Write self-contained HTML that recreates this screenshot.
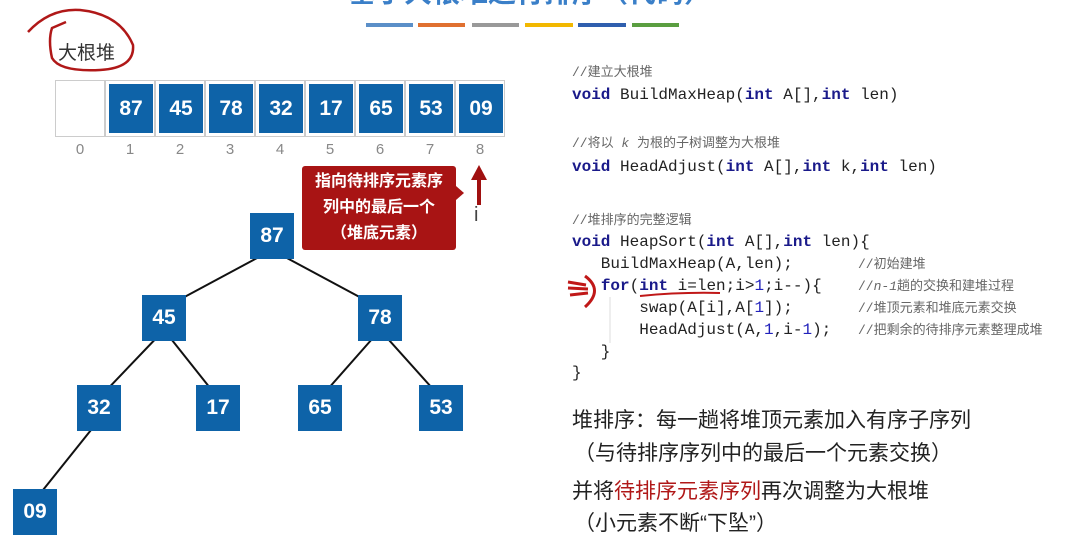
<!DOCTYPE html>
<html><head><meta charset="utf-8"><style>
body{margin:0;width:1085px;height:544px;background:#fff;position:relative;overflow:hidden;font-family:"Liberation Sans","Noto Sans CJK SC",sans-serif}
.a{position:absolute}
.n{position:absolute;width:44px;height:46px;background:#0e63a8;color:#fff;font-weight:bold;font-size:21px;line-height:46px;text-align:center}
.cell{position:absolute;top:80px;width:50px;height:57px;border:1px solid #ccc;box-sizing:border-box}
.cell .b{position:absolute;left:3px;top:3px;width:44px;height:49px;background:#0e63a8;color:#fff;font-weight:bold;font-size:21px;line-height:49px;text-align:center}
.idx{position:absolute;top:141px;width:50px;text-align:center;color:#888;font-size:15px}
.code{position:absolute;left:572px;font-family:"Liberation Mono","DejaVu Sans Mono","Noto Sans CJK SC",monospace;font-size:16px;color:#222;white-space:pre;line-height:20px}
.k{color:#1a1a8a;font-weight:bold}
.c{color:#666;font-size:13px;font-family:"Liberation Mono","Noto Sans CJK SC",monospace}
.num{color:#2222bb}
.t{position:absolute;left:572px;font-size:21px;color:#222;line-height:30px;white-space:nowrap}
</style></head><body>
<div class="a" style="left:300px;top:-29px;width:460px;text-align:center;font-size:28px;font-weight:bold;color:#3a7fc8">基于大根堆进行排序（代码）</div>
<div class="a" style="left:366px;top:23px;width:47px;height:4px;background:#5b8fc8"></div>
<div class="a" style="left:418px;top:23px;width:47px;height:4px;background:#e07030"></div>
<div class="a" style="left:472px;top:23px;width:47px;height:4px;background:#999"></div>
<div class="a" style="left:525px;top:23px;width:48px;height:4px;background:#f2b800"></div>
<div class="a" style="left:578px;top:23px;width:48px;height:4px;background:#2f5fae"></div>
<div class="a" style="left:632px;top:23px;width:47px;height:4px;background:#5a9e40"></div>

<div class="a" style="left:58px;top:38px;font-size:19px;color:#333">大根堆</div>
<svg class="a" style="left:0;top:0" width="1085" height="544">
<path d="M28 32 Q50 8 80 10 Q120 14 133 45 Q135 68 100 70 Q60 72 52 58 Q48 40 52 28 L66 22" fill="none" stroke="#b01818" stroke-width="2.5"/>
<g stroke="#111" stroke-width="2">
<line x1="272" y1="250" x2="164" y2="308"/><line x1="272" y1="250" x2="380" y2="308"/>
<line x1="164" y1="330" x2="99" y2="398"/><line x1="164" y1="330" x2="218" y2="398"/>
<line x1="380" y1="330" x2="320" y2="398"/><line x1="380" y1="330" x2="441" y2="398"/>
<line x1="99" y1="420" x2="35" y2="500"/>
</g>
<line x1="479" y1="205" x2="479" y2="178" stroke="#a01010" stroke-width="4"/>
<polygon points="471,180 487,180 479,165" fill="#a01010"/>
<path d="M568 282 L586 285 M568 288 L588 289 M570 295 L588 293 M585 276 Q604 290 585 307" fill="none" stroke="#c01818" stroke-width="3"/>
<path d="M640 296 Q680 292 720 293" fill="none" stroke="#c01818" stroke-width="2"/>
<line x1="610" y1="297" x2="610" y2="343" stroke="#ddd" stroke-width="1"/>
</svg>

<div class="cell" style="left:55px"></div>
<div class="cell" style="left:105px"><div class="b">87</div></div>
<div class="cell" style="left:155px"><div class="b">45</div></div>
<div class="cell" style="left:205px"><div class="b">78</div></div>
<div class="cell" style="left:255px"><div class="b">32</div></div>
<div class="cell" style="left:305px"><div class="b">17</div></div>
<div class="cell" style="left:355px"><div class="b">65</div></div>
<div class="cell" style="left:405px"><div class="b">53</div></div>
<div class="cell" style="left:455px"><div class="b">09</div></div>
<div class="idx" style="left:55px">0</div><div class="idx" style="left:105px">1</div><div class="idx" style="left:155px">2</div><div class="idx" style="left:205px">3</div><div class="idx" style="left:255px">4</div><div class="idx" style="left:305px">5</div><div class="idx" style="left:355px">6</div><div class="idx" style="left:405px">7</div><div class="idx" style="left:455px">8</div>

<div class="a" style="left:302px;top:166px;width:154px;height:84px;background:#a81414;border-radius:3px;color:#fff;font-weight:bold;font-size:16px;line-height:26px;text-align:center;padding-top:3px;box-sizing:border-box">指向待排序元素序<br>列中的最后一个<br>（堆底元素）</div>
<div class="a" style="left:456px;top:186px;width:0;height:0;border-top:7px solid transparent;border-bottom:7px solid transparent;border-left:8px solid #a81414"></div>
<div class="a" style="left:474px;top:204px;font-size:20px;color:#444">i</div>

<div class="n" style="left:250px;top:213px">87</div>
<div class="n" style="left:142px;top:295px">45</div>
<div class="n" style="left:358px;top:295px">78</div>
<div class="n" style="left:77px;top:385px">32</div>
<div class="n" style="left:196px;top:385px">17</div>
<div class="n" style="left:298px;top:385px">65</div>
<div class="n" style="left:419px;top:385px">53</div>
<div class="n" style="left:13px;top:489px">09</div>

<div class="code" style="top:62px"><span class="c">//建立大根堆</span></div>
<div class="code" style="top:85px"><span class="k">void</span> BuildMaxHeap(<span class="k">int</span> A[],<span class="k">int</span> len)</div>
<div class="code" style="top:133px"><span class="c">//将以 <i>k</i> 为根的子树调整为大根堆</span></div>
<div class="code" style="top:157px"><span class="k">void</span> HeadAdjust(<span class="k">int</span> A[],<span class="k">int</span> k,<span class="k">int</span> len)</div>
<div class="code" style="top:210px"><span class="c">//堆排序的完整逻辑</span></div>
<div class="code" style="top:232px"><span class="k">void</span> HeapSort(<span class="k">int</span> A[],<span class="k">int</span> len){</div>
<div class="code" style="top:254px">   BuildMaxHeap(A,len);</div>
<div class="code" style="top:276px">   <span class="k">for</span>(<span class="k">int</span> i=len;i&gt;<span class="num">1</span>;i--){</div>
<div class="code" style="top:298px">       swap(A[i],A[<span class="num">1</span>]);</div>
<div class="code" style="top:320px">       HeadAdjust(A,<span class="num">1</span>,i-<span class="num">1</span>);</div>
<div class="code" style="top:342px">   }</div>
<div class="code" style="top:363px">}</div>
<div class="code" style="left:858px;top:254px"><span class="c">//初始建堆</span></div>
<div class="code" style="left:858px;top:276px"><span class="c">//<i>n-1</i>趟的交换和建堆过程</span></div>
<div class="code" style="left:858px;top:298px"><span class="c">//堆顶元素和堆底元素交换</span></div>
<div class="code" style="left:858px;top:320px"><span class="c">//把剩余的待排序元素整理成堆</span></div>

<div class="t" style="top:406px">堆排序：每一趟将堆顶元素加入有序子序列</div>
<div class="t" style="top:439px;left:574px">（与待排序序列中的最后一个元素交换）</div>
<div class="t" style="top:477px">并将<span style="color:#b01818">待排序元素序列</span>再次调整为大根堆</div>
<div class="t" style="top:509px;left:574px">（小元素不断“下坠”）</div>
</body></html>
